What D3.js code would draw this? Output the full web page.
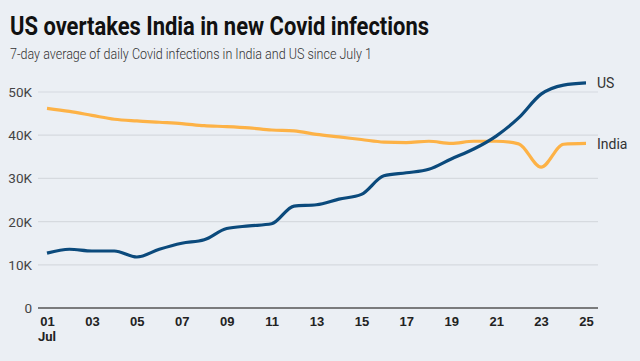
<!DOCTYPE html>
<html lang="en">
<head>
  <meta charset="UTF-8">
  <title>US overtakes India in new Covid infections</title>
  <script src="https://d3js.org/d3.v7.min.js"></script>
  <style>
    body { margin: 0; background: #ebeff4; }
    svg { display: block; font-family: Roboto, "Liberation Sans", sans-serif; }
    .grid line { stroke: #d6dadf; stroke-width: 1.2; }
  </style>
</head>
<body>
  <script>
    // days of July
    var days = d3.range(1, 26);
    var usCases = [12.7, 13.6, 13.2, 13.2, 11.8, 13.6, 15.0, 15.8, 18.4, 19.0, 19.5, 23.6, 23.9, 25.2, 26.3,
      30.6, 31.3, 32.1, 34.5, 36.8, 39.8, 44.0, 49.5, 51.6, 52.1];
    var indiaCases = [46.2, 45.5, 44.6, 43.7, 43.3, 43.0, 42.7, 42.2, 42.0, 41.7, 41.2, 41.0, 40.2, 39.6, 39.0,
      38.4, 38.3, 38.6, 38.1, 38.6, 38.6, 38.0, 32.6, 37.9, 38.1];
    var yTicks = [0, 10, 20, 30, 40, 50];
    var xTicks = [1, 3, 5, 7, 9, 11, 13, 15, 17, 19, 21, 23, 25];

    w = 640
    h = 361

    var svg = d3.select("body").append("svg")
      .attr("width", w)
      .attr("height", h);

    // condensed look: squeeze the text to the reference widths
    svg.append("text")
      .attr("x", 10).attr("y", 35)
      .attr("font-size", 26).attr("font-weight", "bold")
      .attr("fill", "#111")
      .attr("textLength", 419).attr("lengthAdjust", "spacingAndGlyphs")
      .text("US overtakes India in new Covid infections");

    svg.append("text")
      .attr("x", 10).attr("y", 59)
      .attr("font-size", 15.5).attr("font-weight", 300)
      .attr("fill", "#333")
      .attr("textLength", 362).attr("lengthAdjust", "spacingAndGlyphs")
      .text("7-day average of daily Covid infections in India and US since July 1");

    var x = d3.scaleLinear().domain([1, 25]).range([47, 586]);
    var y = d3.scaleLinear().domain([0, 50]).range([308, 92]);

    // gridlines
    svg.append("g").attr("class", "grid")
      .selectAll("line")
      .data(yTicks.filter(function (d) { return d > 0; }))
      .enter().append("line")
      .attr("x1", 38).attr("x2", 598)
      .attr("y1", function (d) { return y(d); })
      .attr("y2", function (d) { return y(d); });

    // y labels
    svg.append("g")
      .selectAll("text")
      .data(yTicks)
      .enter().append("text")
      .attr("x", 32)
      .attr("y", function (d) { return y(d) + 5; })
      .attr("text-anchor", "end")
      .attr("font-size", 13.5)
      .attr("fill", "#444")
      .text(function (d) { return d === 0 ? "0" : d + "K"; });

    // x axis
    var xAxis = svg.append("g")
      .attr("transform", "translate(0,308)")
      .call(d3.axisBottom(x).tickValues(xTicks).tickSize(0).tickPadding(9)
        .tickFormat(function (d) { return d3.format("02")(d); }));
    xAxis.select(".domain").remove();
    xAxis.selectAll("text")
      .attr("font-family", null)
      .attr("font-size", 13)
      .attr("font-weight", "bold")
      .attr("fill", "#222");

    svg.append("line")
      .attr("x1", 38).attr("x2", 598)
      .attr("y1", 308).attr("y2", 308)
      .attr("stroke", "#555").attr("stroke-width", 1.5);

    svg.append("text")
      .attr("x", x(1)).attr("y", 341)
      .attr("text-anchor", "middle")
      .attr("font-size", 13).attr("font-weight", "bold")
      .attr("fill", "#222")
      .text("Jul");

    var line = d3.line()
      .x(function (d, i) { return x(days[i]); })
      .y(function (d) { return y(d); })
      .curve(d3.curveMonotoneX);

    svg.append("path")
      .attr("d", line(indiaCases))
      .attr("fill", "none")
      .attr("stroke", "#fdb246")
      .attr("stroke-width", 3.2);

    svg.append("path")
      .attr("d", line(usCases))
      .attr("fill", "none")
      .attr("stroke", "#0b4a7c")
      .attr("stroke-width", 3.2);

    svg.append("text")
      .attr("x", 597).attr("y", y(usCases[24]) + 5)
      .attr("font-size", 14).attr("fill", "#333")
      .text("US");

    svg.append("text")
      .attr("x", 597).attr("y", y(indiaCases[24]) + 6)
      .attr("font-size", 14).attr("fill", "#333")
      .text("India");
  </script>
</body>
</html>
